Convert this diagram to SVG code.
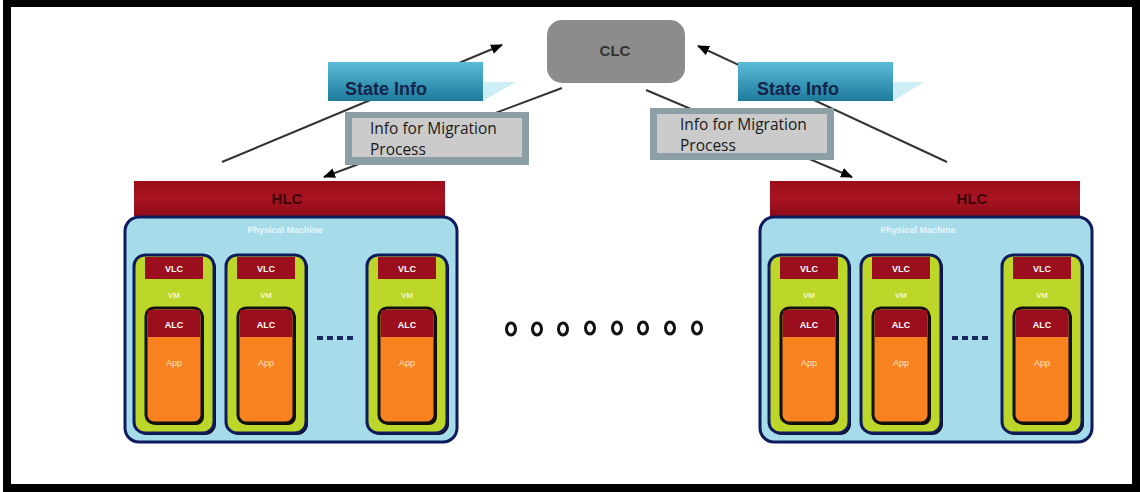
<svg xmlns="http://www.w3.org/2000/svg" width="1140" height="492" viewBox="0 0 1140 492">
<defs>
<linearGradient id="gState" x1="0" y1="0" x2="0" y2="1">
<stop offset="0" stop-color="#5bbcd8"/>
<stop offset="1" stop-color="#1e7a9c"/>
</linearGradient>
<linearGradient id="gHlc" x1="0" y1="0" x2="0" y2="1">
<stop offset="0" stop-color="#9c0c18"/>
<stop offset="0.5" stop-color="#a81422"/>
<stop offset="1" stop-color="#8e0a16"/>
</linearGradient>
<marker id="ah" viewBox="0 0 12 10" refX="11" refY="5" markerWidth="12" markerHeight="10" markerUnits="userSpaceOnUse" orient="auto">
<path d="M0,0 L12,5 L0,10 z" fill="#000"/>
</marker>
<g id="vm">
<rect x="2" y="2" width="80" height="178" rx="11" fill="#0b0b20"/>
<rect x="0" y="0" width="80" height="178" rx="11" fill="#bcd62a" stroke="#0e1a5c" stroke-width="3"/>
<rect x="11" y="2" width="58" height="22" fill="#9b0e1e"/>
<text x="40" y="17" class="w">VLC</text>
<text x="40" y="43" class="vmt">VM</text>
<rect x="14" y="55" width="56" height="115" rx="8" fill="#1a0a00"/>
<rect x="12" y="53" width="56" height="115" rx="8" fill="#f7821f" stroke="#111" stroke-width="3"/>
<rect x="14" y="55" width="52" height="27" fill="#9b0e1e"/>
<text x="40" y="73" class="w">ALC</text>
<text x="40" y="111" class="app">App</text>
</g>
</defs>
<style>
text{font-family:"Liberation Sans",Arial,sans-serif}
.w{font-size:9px;font-weight:bold;fill:#ffffff;text-anchor:middle}
.vmt{font-size:8px;font-weight:bold;fill:#f4f6c8;text-anchor:middle}
.app{font-size:9px;fill:#ffe2c4;text-anchor:middle}
.pmt{font-size:9px;font-weight:bold;fill:#e6f6fb;text-anchor:middle}
.hlc{font-size:15px;font-weight:bold;fill:#3a0608;text-anchor:middle}
.st{font-size:18px;font-weight:bold;fill:#15254a}
.mig{font-size:15.5px;fill:#1a1a1a;font-family:"Open Sans","Liberation Sans",sans-serif}
.conn{stroke:#333;stroke-width:2;fill:none}
.pm{fill:#a6dcea;stroke:#0e1a5c;stroke-width:3}
.dash{fill:#1b2a5e}
.zero{fill:none;stroke:#111;stroke-width:3}
</style>
<rect x="7" y="3" width="1129" height="485" fill="#ffffff" stroke="#000" stroke-width="8"/>

<g id="connectors">
<line class="conn" x1="222" y1="162" x2="502" y2="45" marker-end="url(#ah)"/>
<line class="conn" x1="562" y1="88" x2="324" y2="177" marker-end="url(#ah)"/>
<line class="conn" x1="947" y1="162" x2="698" y2="46" marker-end="url(#ah)"/>
<line class="conn" x1="646" y1="90" x2="852" y2="177" marker-end="url(#ah)"/>
</g>

<g id="clc">
<rect x="547" y="20" width="138" height="63" rx="15" fill="#8c8c8c"/>
<text x="615" y="56" style="font-size:15px;font-weight:bold;fill:#333;text-anchor:middle">CLC</text>
</g>

<g id="state-left">
<polygon points="483,82 516,82 483,101" fill="#cdeef5"/>
<rect x="328" y="62" width="155" height="39" fill="url(#gState)"/>
<text x="345" y="95" class="st">State Info</text>
</g>
<g id="state-right">
<polygon points="893,82 924,82 893,101" fill="#cdeef5"/>
<rect x="738" y="62" width="155" height="39" fill="url(#gState)"/>
<text x="757" y="95" class="st">State Info</text>
</g>

<g id="mig-left">
<rect x="345" y="112" width="184" height="53" fill="#8d9fa6"/>
<rect x="352" y="118" width="170" height="39" fill="#cbcbcb"/>
<text x="370" y="134" class="mig">Info for Migration</text>
<text x="370" y="155" class="mig">Process</text>
</g>
<g id="mig-right">
<rect x="650" y="108" width="184" height="52" fill="#8d9fa6"/>
<rect x="657" y="114" width="170" height="39" fill="#cbcbcb"/>
<text x="680" y="130" class="mig">Info for Migration</text>
<text x="680" y="151" class="mig">Process</text>
</g>

<g id="host-left">
<rect x="134" y="181" width="311" height="35" fill="url(#gHlc)"/>
<text x="287" y="204" class="hlc">HLC</text>
<rect class="pm" x="125" y="217" width="332" height="225" rx="14"/>
<text x="285" y="233" class="pmt">Physical Machine</text>
<use href="#vm" x="134" y="255"/>
<use href="#vm" x="226" y="255"/>
<use href="#vm" x="367" y="255"/>
<rect class="dash" x="317" y="336" width="6" height="4"/>
<rect class="dash" x="327" y="336" width="6" height="4"/>
<rect class="dash" x="337" y="336" width="6" height="4"/>
<rect class="dash" x="347" y="336" width="6" height="4"/>
</g>

<g id="host-right">
<rect x="770" y="181" width="310" height="35" fill="url(#gHlc)"/>
<text x="972" y="204" class="hlc">HLC</text>
<rect class="pm" x="760" y="217" width="332" height="225" rx="14"/>
<text x="918" y="233" class="pmt">Physical Machine</text>
<use href="#vm" x="769" y="255"/>
<use href="#vm" x="861" y="255"/>
<use href="#vm" x="1002" y="255"/>
<rect class="dash" x="952" y="336" width="6" height="4"/>
<rect class="dash" x="962" y="336" width="6" height="4"/>
<rect class="dash" x="972" y="336" width="6" height="4"/>
<rect class="dash" x="982" y="336" width="6" height="4"/>
</g>

<g id="ellipsis">
<ellipse class="zero" cx="511" cy="329" rx="4.5" ry="6"/>
<ellipse class="zero" cx="537" cy="329" rx="4.5" ry="6"/>
<ellipse class="zero" cx="563" cy="329" rx="4.5" ry="6"/>
<ellipse class="zero" cx="590" cy="328" rx="4.5" ry="6"/>
<ellipse class="zero" cx="617" cy="328" rx="4.5" ry="6"/>
<ellipse class="zero" cx="643" cy="328" rx="4.5" ry="6"/>
<ellipse class="zero" cx="670" cy="328" rx="4.5" ry="6"/>
<ellipse class="zero" cx="697" cy="328" rx="4.5" ry="6"/>
</g>
</svg>
